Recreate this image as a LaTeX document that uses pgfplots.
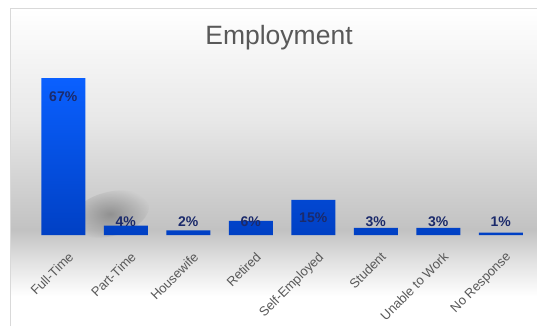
\documentclass[border=0pt]{standalone}
\usepackage{fontspec}
\setmainfont{Liberation Sans}
\usepackage{pgfplots}
\pgfplotsset{compat=1.18}
\usetikzlibrary{fadings}
\tikzfading[name=softfade, inner color=transparent!0, outer color=transparent!100]
\definecolor{bgray}{gray}{0.76}
\definecolor{txtgray}{HTML}{595959}
\definecolor{bartop}{HTML}{0A60FF}
\definecolor{barbot}{HTML}{0040C4}
\definecolor{lblnavy}{HTML}{1B2A6B}
\begin{document}
\begin{tikzpicture}[x=1bp,y=1bp]
\path[use as bounding box] (0,0) rectangle (537,326);
% background
\shade[top color=white, bottom color=bgray, middle color=gray!18!white] (10,96) rectangle (537,318);
\shade[top color=bgray, bottom color=white, middle color=gray!22!white] (10,30) rectangle (537,96);
\fill[white] (10,0) rectangle (537,30);
\draw[gray!30, line width=0.8bp] (10,0) -- (10,318) -- (537,318);
% soft shadow behind the first bar
\fill[gray!50!black, opacity=0.4, path fading=softfade, rotate around={15:(110,112)}] (110,112) ellipse (40 and 22);
\node[txtgray, font=\fontsize{26.5bp}{30bp}\selectfont] at (279,288) {Employment};
\begin{axis}[
  at={(32bp,91bp)}, anchor=south west,
  scale only axis, width=500bp, height=187.4bp,
  xmin=-0.5, xmax=7.5, ymin=0, ymax=80,
  axis lines=none,
  clip=false,
  xtick={0,...,7},
  ytick=\empty,
]
\addplot[ybar, bar width=44bp, draw=none, top color=bartop, bottom color=barbot]
  coordinates {(0,67) (1,4) (2,2) (3,6) (4,15) (5,3) (6,3) (7,1)};
% data labels
\addplot[only marks, mark=none, point meta=explicit symbolic,
  nodes near coords, every node near coord/.style={anchor=center, text=lblnavy, font=\bfseries\fontsize{14bp}{16bp}\selectfont}]
  coordinates {(0,58.9)[67\%] (1,5.6)[4\%] (2,5.6)[2\%] (3,5.6)[6\%] (4,7.2)[15\%] (5,5.6)[3\%] (6,5.6)[3\%] (7,5.6)[1\%]};
\end{axis}
% category labels
\begin{axis}[
  at={(32bp,91bp)}, anchor=south west,
  scale only axis, width=500bp, height=187.4bp,
  xmin=-0.5, xmax=7.5, ymin=0, ymax=80,
  hide y axis, axis x line*=bottom, x axis line style={draw=none},
  xtick={0,...,7}, major tick length=0pt,
  xticklabels={Full-Time,Part-Time,Housewife,Retired,Self-Employed,Student,Unable to Work,No Response},
  xticklabel style={rotate=45, anchor=north east, text=txtgray, font=\fontsize{13bp}{15bp}\selectfont, xshift=-5bp, yshift=-11bp},
]
\addplot[draw=none, forget plot] coordinates {(0,0)};
\end{axis}
\end{tikzpicture}
\end{document}
